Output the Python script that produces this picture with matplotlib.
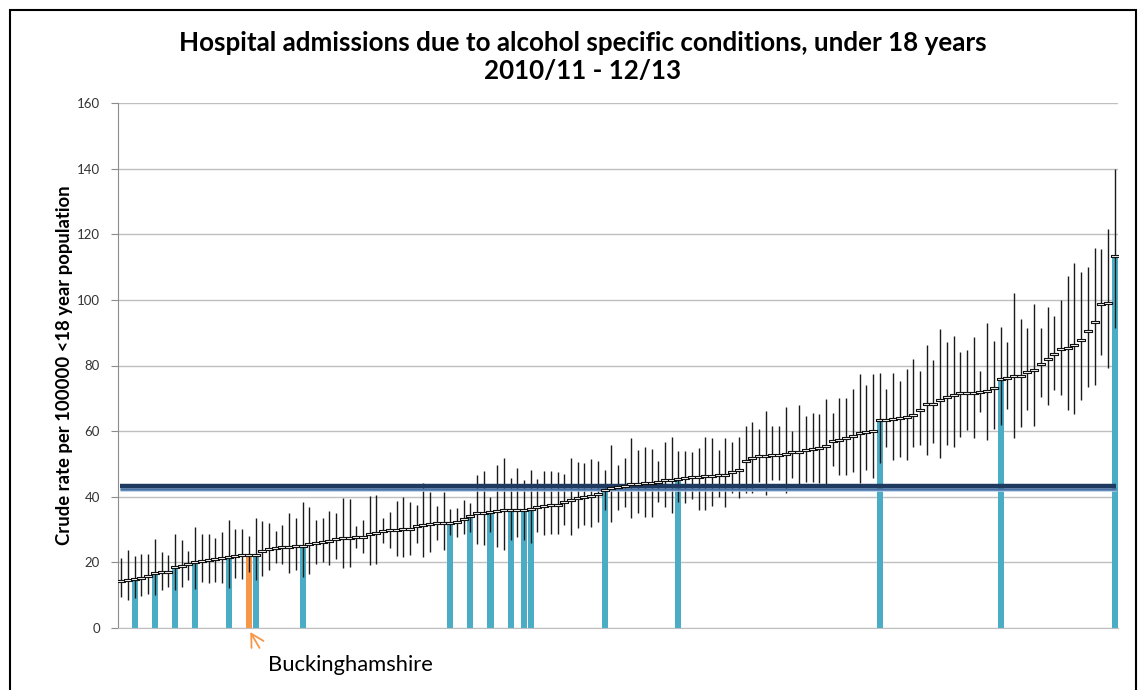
import matplotlib
matplotlib.use("Agg")
import matplotlib.pyplot as plt
from matplotlib.patches import Rectangle
import numpy as np

# ---- data ----
rates = [
    14.4, 14.6, 15.0, 15.3, 16.0, 16.8, 17.1, 17.2, 18.5, 19.0,
    19.5, 20.0, 20.3, 20.6, 20.9, 21.3, 21.7, 21.9, 22.1, 22.3,
    22.4, 23.6, 24.0, 24.3, 24.6, 24.8, 25.0, 25.1, 25.6, 25.8,
    26.2, 26.6, 27.2, 27.4, 27.5, 27.6, 27.8, 28.5, 29.0, 29.5,
    29.8, 30.0, 30.1, 30.2, 31.1, 31.4, 31.7, 31.9, 32.0, 32.1,
    32.3, 33.1, 34.2, 34.9, 35.2, 35.4, 35.8, 35.9, 35.9, 36.0,
    36.1, 36.2, 36.8, 37.2, 37.4, 37.6, 38.5, 39.0, 39.5, 40.0,
    40.3, 40.8, 42.0, 42.6, 43.1, 43.3, 43.8, 43.8, 44.1, 44.1,
    44.5, 45.0, 45.1, 45.5, 45.6, 45.9, 45.9, 46.3, 46.3, 46.6,
    46.6, 47.4, 48.2, 50.8, 51.8, 52.3, 52.3, 52.8, 52.8, 53.0,
    53.5, 53.5, 54.2, 54.7, 55.0, 55.5, 57.1, 57.2, 58.0, 58.6,
    59.3, 59.6, 60.1, 63.4, 63.4, 63.6, 63.9, 64.4, 64.9, 66.3,
    68.2, 68.3, 69.5, 70.5, 71.0, 71.5, 71.5, 71.5, 71.8, 72.2,
    73.0, 75.8, 76.3, 76.8, 76.8, 78.1, 78.6, 80.5, 82.0, 83.4,
    85.0, 85.2, 86.3, 87.8, 90.5, 93.2, 98.6, 98.9, 113.4]

ci_low = [
    9.5, 8.5, 9.0, 9.7, 10.5, 10.0, 11.6, 12.6, 11.6, 12.4,
    14.6, 11.9, 14.1, 13.6, 14.1, 13.8, 12.1, 15.1, 14.8, 17.2,
    14.6, 15.8, 17.7, 19.7, 19.5, 16.9, 17.7, 15.4, 16.4, 19.5,
    20.2, 19.2, 20.9, 18.2, 18.7, 24.3, 23.0, 19.2, 19.4, 26.0,
    24.3, 21.9, 21.7, 22.2, 25.8, 21.7, 23.3, 26.8, 23.8, 28.3,
    27.8, 28.8, 29.3, 25.6, 25.3, 29.3, 24.8, 23.8, 26.8, 27.8,
    26.8, 25.8, 29.3, 28.3, 28.8, 28.8, 31.4, 28.3, 30.4, 31.4,
    30.9, 32.4, 36.0, 32.4, 35.9, 37.0, 33.4, 35.0, 33.9, 33.9,
    38.5, 37.0, 35.0, 38.5, 38.0, 39.2, 35.9, 36.1, 37.2, 39.8,
    36.8, 41.0, 39.5, 41.0, 41.0, 44.6, 40.5, 45.1, 45.1, 41.0,
    45.6, 43.6, 44.6, 44.6, 44.3, 43.6, 49.5, 46.6, 46.6, 47.6,
    44.1, 48.1, 45.6, 50.2, 55.3, 51.2, 52.2, 51.2, 55.3, 55.8,
    52.7, 56.3, 51.7, 55.8, 55.3, 58.3, 60.3, 57.8, 65.9, 57.3,
    60.8, 61.8, 66.6, 57.8, 61.4, 66.3, 61.6, 70.5, 68.0, 72.5,
    71.0, 66.3, 65.3, 69.5, 73.5, 74.1, 83.2, 79.1, 91.3]

ci_high = [
    21.2, 23.9, 21.9, 22.7, 22.7, 27.0, 23.1, 22.2, 28.7, 26.8,
    23.4, 30.8, 28.5, 28.5, 27.5, 29.2, 32.9, 30.1, 30.3, 28.0,
    33.4, 32.6, 32.1, 29.5, 31.4, 34.9, 33.4, 38.5, 36.8, 32.9,
    33.4, 35.8, 35.2, 39.5, 39.2, 31.1, 32.9, 40.3, 40.6, 33.4,
    35.5, 38.7, 39.8, 38.5, 37.5, 44.1, 41.6, 37.2, 41.6, 36.2,
    36.5, 39.0, 38.0, 46.6, 47.8, 40.0, 49.7, 51.7, 45.6, 48.7,
    45.1, 48.3, 45.4, 47.8, 47.8, 47.6, 46.9, 51.7, 50.7, 50.2,
    51.4, 50.9, 48.1, 55.8, 49.7, 51.7, 57.8, 54.3, 55.1, 54.7,
    51.0, 56.6, 58.3, 53.9, 53.9, 53.7, 54.8, 58.3, 57.8, 54.3,
    58.0, 56.8, 58.3, 61.5, 62.7, 60.5, 66.2, 61.6, 61.6, 67.4,
    60.0, 67.9, 64.6, 65.6, 65.2, 69.7, 65.6, 70.0, 70.0, 72.7,
    77.4, 74.1, 77.3, 77.6, 72.8, 77.6, 75.4, 78.9, 82.0, 78.4,
    86.3, 81.7, 91.1, 87.3, 89.1, 84.0, 84.7, 88.8, 78.4, 92.9,
    87.6, 91.7, 87.3, 102.0, 94.1, 91.3, 98.7, 91.3, 97.7, 95.0,
    99.9, 107.3, 111.3, 108.6, 109.9, 115.7, 115.4, 121.5, 139.8]

comparator_idx = [2, 5, 8, 11, 16, 20, 27, 49, 52, 55, 58, 60, 61, 72, 83, 113, 131, 148]
highlight_idx = 19
highlight_name = "Buckinghamshire"
england_avg = 43.0
yticks = [0, 20, 40, 60, 80, 100, 120, 140, 160]

title = "Hospital admissions due to alcohol specific conditions, under 18 years\n2010/11 - 12/13"
ylabel = "Crude rate per 100000 <18 year population"

# ---- plotting ----
FONT = "Lato"
plt.rcParams["font.family"] = [FONT, "DejaVu Sans"]

W, H = 1146, 690
fig = plt.figure(figsize=(W / 100, H / 100), dpi=100)
ax = fig.add_axes([118 / W, 1 - 628 / H, 1000 / W, 525 / H])

n = len(rates)
x = np.arange(n)
r = np.array(rates)

TEAL = "#4BACC6"
ORANGE = "#F79646"

# comparator bars
ax.bar([x[i] for i in comparator_idx], [r[i] for i in comparator_idx],
       width=0.9, color=TEAL, zorder=2, linewidth=0)
ax.bar([x[highlight_idx]], [r[highlight_idx]], width=0.9, color=ORANGE,
       zorder=2, linewidth=0)

# confidence intervals
ax.vlines(x, ci_low, ci_high, color="#1a1a1a", lw=1.0, zorder=3)

# England average band
ax.hlines(england_avg - 1.0, -0.2, n - 0.8, color="#B7CDE8", lw=1.8, zorder=4)
ax.hlines(england_avg - 0.55, -0.2, n - 0.8, color="#4A74A8", lw=1.8, zorder=4)
ax.hlines(england_avg + 0.2, -0.2, n - 0.8, color="#1F3A60", lw=3.2, zorder=4)

# value markers (small horizontal boxes)
box = [(-1, -0.32), (1, -0.32), (1, 0.32), (-1, 0.32), (-1, -0.32)]
ax.plot(x, r, linestyle="none", marker=box, ms=5.4, mfc="white",
        mec="#111111", mew=0.8, zorder=5)

# axes styling
ax.set_xlim(-0.5, n - 0.5)
ax.set_ylim(0, 160)
ax.set_yticks(yticks)
ax.set_xticks([])
ax.yaxis.grid(True, color="#BFBFBF", lw=1.0, zorder=0)
ax.set_axisbelow(True)
for s in ["top", "right"]:
    ax.spines[s].set_visible(False)
ax.spines["left"].set_color("#8C8C8C")
ax.spines["bottom"].set_color("#BFBFBF")
ax.tick_params(axis="y", length=5, color="#8C8C8C", pad=8,
               labelsize=9.5, labelcolor="#333333")
ax.set_ylabel(ylabel, fontsize=13.3, fontweight="bold", labelpad=3)

fig.text(583 / W, 1 - 57 / H, title, ha="center", va="center",
         fontsize=18.7, fontweight="bold", linespacing=1.2)

# annotation for highlighted area
ax.annotate("", xy=(x[highlight_idx], -0.5), xytext=(x[highlight_idx] + 1.8, -6.8),
            arrowprops=dict(arrowstyle="->,head_length=0.9,head_width=0.5",
                            color=ORANGE, lw=1.3),
            annotation_clip=False)
fig.text(268 / W, 1 - 665 / H, highlight_name, ha="left", va="center",
         fontsize=15.8)

# outer border
fig.patches.append(Rectangle((10 / W, -0.1), 1126 / W, 1.1 - 10 / H,
                             transform=fig.transFigure, fill=False,
                             edgecolor="black", lw=1.5))

fig.savefig("out.png", dpi=100)
